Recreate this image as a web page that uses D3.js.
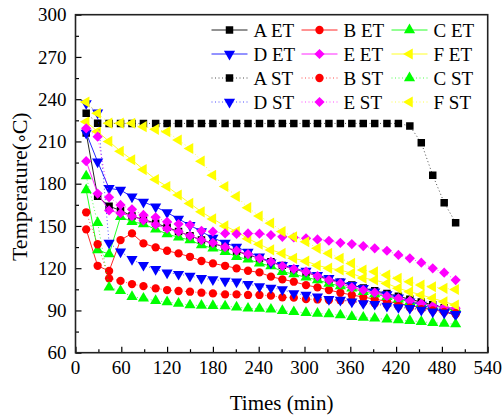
<!DOCTYPE html>
<html>
<head>
<meta charset="utf-8">
<script src="https://cdn.jsdelivr.net/npm/d3@7"></script>
<style>
    body { margin: 0; background: #fff; }
    svg { display: block; }
    text { font-family: "Liberation Serif", "Times New Roman", serif; fill: #000; }
</style>
</head>
<body>
<div id="chart"></div>
<script>
// sample times (min)
let times = [14, 29, 44, 59, 74, 89, 105, 120, 135, 150, 165, 180, 196, 211, 226, 241, 256, 271, 286, 302,
    317, 332, 347, 362, 377, 392, 408, 423, 438, 453, 468, 483, 498];

// temperatures per series
let aET = [216, 171, 164, 161, 157, 154.5, 152, 149, 146, 143, 140, 137.5, 135, 132, 129.5, 127, 124.6, 122, 119.5, 117,
    114.5, 112, 110, 108, 106, 104, 102, 100, 98, 96, 94, 92, 90];
let bET = [147.6, 121.7, 118, 140, 144.7, 137.6, 134.8, 132.4, 130.5, 128.1, 125.1, 123.4, 121.7, 119.9, 118.2, 117, 114, 112.1, 110.4, 108,
    106.4, 104.5, 102.6, 101, 99.5, 98, 96.5, 95, 93.5, 92, 90.5, 89, 87.5];
let cET = [175.5, 132.9, 130, 156.5, 153, 151.4, 147.6, 144.3, 141.9, 140, 136.4, 134.1, 131.7, 128.1, 126.3, 123.5, 121.5, 117.5, 115.8, 113.5,
    111.6, 109.2, 107.3, 105.7, 103.3, 101.6, 99.7, 97.9, 96.2, 95, 93.1, 92.2, 91.5];
let dET = [216, 195.6, 176.7, 175.5, 170.7, 167, 163.6, 159.5, 155, 150.5, 146, 141.5, 138, 135, 131.5, 128.1, 123.9, 122.2, 119.9, 118,
    115.1, 112.8, 110.4, 108, 105.7, 103.3, 101.4, 99, 96.2, 93.8, 91.5, 89.1, 86.7];
let eET = [196, 173, 161, 159, 157, 154, 151, 148, 146, 143, 140, 138, 135, 132.5, 130, 127, 124.6, 121.5, 119.5, 117.5,
    114.4, 111.6, 109.2, 106.4, 104.5, 102.6, 100.2, 98.6, 96.9, 95, 93.1, 92.2, 91.5];
let fET = [224, 217, 210, 203, 197, 190, 183, 178, 172, 166, 160, 155, 150, 146, 141, 137, 133, 130.5, 127, 125,
    122, 120, 118.7, 116.3, 113, 111.6, 109.2, 105.7, 103.3, 101, 98.6, 96.2, 93.8];
let aST = [230, 223, 222.8, 222.8, 222.8, 222.8, 222.8, 222.8, 222.8, 222.8, 222.8, 222.8, 222.8, 222.8, 222.8, 222.8, 222.8, 222.8, 222.8, 222.8,
    222.8, 222.8, 222.8, 222.8, 222.8, 222.8, 222.8, 222.8, 221, 209, 186, 166.5, 152.3];
let bST = [159.7, 137, 112.8, 111, 108.7, 107.3, 105.7, 104.5, 103.8, 103.3, 102.6, 102.1, 101.4, 101.4, 101, 101, 100.5, 99.3, 99.1, 98,
    97.8, 97.4, 97.2, 96.9, 96, 95, 94, 93, 92, 91, 90, 89, 88];
let cST = [185.4, 152.3, 106.4, 103.9, 99.7, 98.6, 96.9, 96, 95, 93.8, 93.5, 93.3, 93.1, 92.3, 91.5, 91.3, 90.8, 89.8, 89, 88.4,
    87.9, 87.4, 86.7, 85.5, 85, 84.4, 83.7, 83.2, 82.7, 82, 81.3, 80.8, 80.3];
let dST = [237, 230.4, 138, 131.7, 126.3, 122.2, 119.2, 116.8, 115.8, 114.4, 112.8, 112, 110.9, 110.4, 108.7, 107, 106, 104.9, 102.1, 101,
    99.7, 97.9, 97.4, 96.2, 95, 94.5, 93.1, 92.2, 91.5, 90.3, 89.1, 88.4, 87.4];
let eST = [219.3, 213.4, 170.3, 164.9, 161.8, 157.8, 156.1, 153, 151.4, 150.6, 146.6, 145.9, 144.7, 144.3, 144.7, 144.5, 143.5, 142.3, 141.8, 141.2,
    140.4, 139.5, 138, 137.1, 135.7, 134.1, 132.4, 129.4, 127, 123.9, 119.9, 116.8, 111.6];
let fST = [238, 230, 223, 223, 222.9, 220.5, 218.6, 216.9, 211, 205, 196, 186, 178, 171, 163, 157, 152, 146, 142.3, 138.8,
    134.1, 130.5, 127, 123.4, 118.7, 117.5, 115.1, 112.8, 110.4, 108, 106.8, 105.7, 104.9];

let seriesNames = ['A ET', 'B ET', 'C ET', 'D ET', 'E ET', 'F ET', 'A ST', 'B ST', 'C ST', 'D ST', 'E ST', 'F ST'];
let seriesValues = [aET, bET, cET, dET, eET, fET, aST, bST, cST, dST, eST, fST];

let xTicks = [0, 60, 120, 180, 240, 300, 360, 420, 480, 540];
let yTicks = [60, 90, 120, 150, 180, 210, 240, 270, 300];

let colors = ['#000000', '#ff0000', '#00ff00', '#0000ff', '#ff00ff', '#ffff00'];

// marker shape for each letter A..F
function markerPath(i) {
    let k = i % 6;
    if (k === 0) return {d: d3.symbol(d3.symbolSquare, 56)(), rot: 0};
    if (k === 1) return {d: d3.symbol(d3.symbolCircle, 54)(), rot: 0};
    if (k === 2) return {d: d3.symbol(d3.symbolTriangle, 54)(), rot: 0};
    if (k === 3) return {d: d3.symbol(d3.symbolTriangle, 54)(), rot: 180};
    if (k === 4) return {d: d3.symbol(d3.symbolSquare, 52)(), rot: 45};
    return {d: d3.symbol(d3.symbolTriangle, 54)(), rot: -90};
}

function drawChart() {
    let width = 502, height = 419;
    let plot = {left: 75.5, right: 487.7, top: 14.7, bottom: 352.7};

    let svg = d3.select('#chart').append('svg')
        .attr('width', width)
        .attr('height', height);

    let x = d3.scaleLinear().domain([0, 540]).range([plot.left, plot.right]);
    let y = d3.scaleLinear().domain([60, 300]).range([plot.bottom, plot.top]);

    // clip so nothing spills over the frame
    svg.append('clipPath').attr('id', 'clip')
        .append('rect')
        .attr('x', plot.left).attr('y', plot.top)
        .attr('width', plot.right - plot.left).attr('height', plot.bottom - plot.top);

    // bottom axis, ticks inside
    let xAxis = svg.append('g')
        .attr('transform', `translate(0,${plot.bottom})`)
        .call(d3.axisBottom(x).tickValues(d3.range(0, 541, 30)).tickSize(-4).tickFormat(''));
    xAxis.selectAll('.tick line').attr('y2', function (d) { return d % 60 === 0 ? -6 : -3.5; });
    xAxis.select('.domain').remove();

    svg.append('g').selectAll('text').data(xTicks).enter().append('text')
        .attr('x', function (d) { return x(d); })
        .attr('y', plot.bottom + 21)
        .attr('text-anchor', 'middle')
        .style('font-size', '19px')
        .text(function (d) { return d; });

    // left axis
    let yAxis = svg.append('g')
        .attr('transform', `translate(${plot.left},0)`)
        .call(d3.axisLeft(y).tickValues(d3.range(60, 301, 15)).tickSize(-4).tickFormat(''));
    yAxis.selectAll('.tick line').attr('x2', function (d) { return d % 30 === 0 ? 6 : 3.5; });
    yAxis.select('.domain').remove();

    svg.append('g').selectAll('text').data(yTicks).enter().append('text')
        .attr('x', plot.left - 9)
        .attr('y', function (d) { return y(d); })
        .attr('dy', '0.35em')
        .attr('text-anchor', 'end')
        .style('font-size', '19px')
        .text(function (d) { return d; });

    svg.selectAll('.tick line').attr('stroke', '#000').attr('stroke-width', 1.2);

    // frame
    svg.append('rect')
        .attr('x', plot.left).attr('y', plot.top)
        .attr('width', plot.right - plot.left).attr('height', plot.bottom - plot.top)
        .attr('fill', 'none').attr('stroke', '#222').attr('stroke-width', 1.6);

    // axis titles
    svg.append('text')
        .attr('x', (plot.left + plot.right) / 2)
        .attr('y', 410)
        .attr('text-anchor', 'middle')
        .style('font-size', '21px')
        .text('Times (min)');

    let yTitle = svg.append('text')
        .attr('transform', `translate(27,${(plot.top + plot.bottom) / 2 + 3}) rotate(-90)`)
        .attr('text-anchor', 'middle')
        .style('font-size', '22px');
    yTitle.append('tspan').text('Temperature(');
    yTitle.append('tspan').attr('dx', -1).style('font-size', '18px').text('\u2218');
    yTitle.append('tspan').attr('dx', -1.5).text('C)');

    let line = d3.line()
        .x(function (d) { return x(d.t); })
        .y(function (d) { return y(d.v); });

    let layer = svg.append('g').attr('clip-path', 'url(#clip)');

    // draw each series: line first, markers on top
    seriesValues.forEach(function (values, i) {
        let pts = values.map(function (v, j) { return {t: times[j], v: v}; });
        let col = colors[i % 6];
        let dotted = i >= 6;
        let g = layer.append('g').attr('class', 'series');

        g.append('path')
            .attr('d', line(pts))
            .attr('fill', 'none')
            .attr('stroke', col)
            .attr('stroke-width', 1)
            .attr('stroke-opacity', dotted ? 0.7 : 0.85)
            .attr('stroke-dasharray', dotted ? '1,2.5' : null);

        let m = markerPath(i);
        g.selectAll('.mk').data(pts).enter().append('path')
            .attr('class', 'mk')
            .attr('d', m.d)
            .attr('transform', function (d) { return `translate(${x(d.t)},${y(d.v)}) rotate(${m.rot})`; })
            .attr('fill', col);
    });

    // legend, 4 rows x 3 columns
    let legend = svg.append('g');
    seriesNames.forEach(function (name, i) {
        let row = Math.floor(i / 3);
        let colIdx = i % 3;
        let cx = 229.5 + colIdx * 90;
        let cy = 30 + row * 24;
        let col = colors[i % 6];
        let dotted = i >= 6;

        legend.append('line')
            .attr('x1', cx - 18).attr('x2', cx + 18)
            .attr('y1', cy).attr('y2', cy)
            .attr('stroke', col)
            .attr('stroke-width', 1)
            .attr('stroke-opacity', dotted ? 0.7 : 0.85)
            .attr('stroke-dasharray', dotted ? '1,2.5' : null);

        let m = markerPath(i);
        legend.append('path')
            .attr('d', m.d)
            .attr('transform', `translate(${cx},${cy}) rotate(${m.rot})`)
            .attr('fill', col);

        legend.append('text')
            .attr('x', cx + 24)
            .attr('y', cy)
            .attr('dy', '0.35em')
            .style('font-size', '19px')
            .text(name);
    });
}

drawChart();
</script>
</body>
</html>
